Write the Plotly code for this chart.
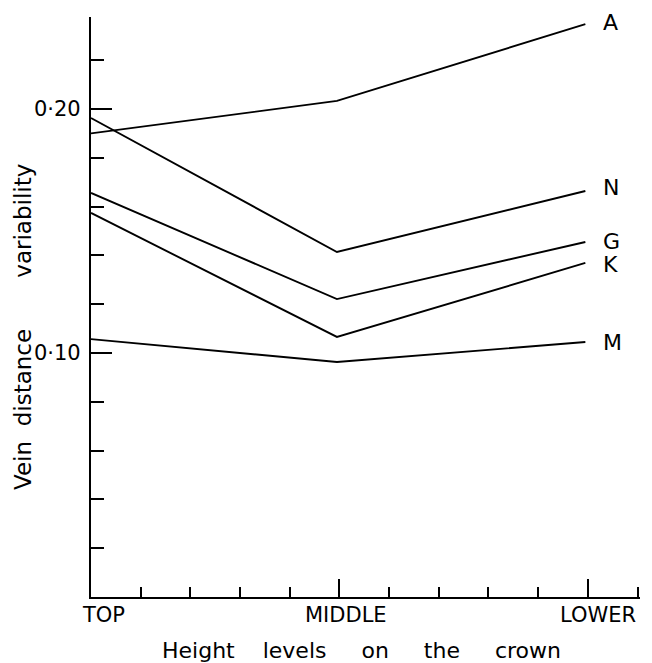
import plotly.graph_objects as go

levels_x = [0, 4.95, 9.95]
level_names = ["TOP", "MIDDLE", "LOWER"]
level_ticks = [0, 5, 10]
series_names = ["A", "N", "G", "K", "M"]
A = [0.190, 0.2033, 0.2348]
N = [0.1963, 0.1414, 0.1664]
G = [0.1656, 0.1221, 0.1455]
K = [0.1574, 0.1066, 0.1369]
M = [0.1057, 0.0963, 0.1045]
series_vals = [A, N, G, K, M]
label_y = [0.2355, 0.1680, 0.1459, 0.1361, 0.1045]
y_tickvals = [0.10, 0.20]
y_ticktext = ["0·10", "0·20"]

FONT = "DejaVu Sans"
fig = go.Figure()
for name, vals in zip(series_names, series_vals):
    fig.add_trace(go.Scatter(x=levels_x, y=vals, mode="lines", name=name,
                             line=dict(color="black", width=1.9), showlegend=False))

annotations = []
for name, yv in zip(series_names, label_y):
    annotations.append(dict(x=10.26, y=yv, xref="x", yref="y", text=name, showarrow=False,
                            xanchor="left", yanchor="middle",
                            font=dict(family=FONT, size=22, color="black")))
offsets = [12, 7, 10]
for name, xv, off in zip(level_names, level_ticks, offsets):
    annotations.append(dict(x=xv, y=0, xref="x", yref="y", text=name, showarrow=False,
                            xanchor="center", yanchor="top", xshift=off, yshift=-4,
                            font=dict(family=FONT, size=21, color="black")))
annotations.append(dict(x=0.492, y=0, xref="paper", yref="paper",
                        text="Height    levels     on     the     crown", showarrow=False,
                        xanchor="center", yanchor="top", yshift=-39,
                        font=dict(family=FONT, size=22, color="black")))
annotations.append(dict(x=0, y=0.4655, xref="paper", yref="paper",
                        text="Vein  distance       variability", showarrow=False, textangle=-90,
                        xanchor="center", yanchor="middle", xshift=-68,
                        font=dict(family=FONT, size=23, color="black")))

fig.update_layout(
    width=652, height=663,
    margin=dict(l=83, r=20, t=9, b=74),
    plot_bgcolor="white", paper_bgcolor="white",
    annotations=annotations,
    xaxis=dict(range=[0, 11.05], showgrid=False, zeroline=False,
               showline=True, linecolor="black", linewidth=2.2,
               tickvals=level_ticks, ticktext=["", "", ""], ticks="inside", ticklen=18,
               tickwidth=1.6, tickcolor="black",
               minor=dict(dtick=1, tick0=0, ticks="inside", ticklen=10, tickwidth=1.6,
                          tickcolor="black", showgrid=False)),
    yaxis=dict(range=[0, 0.2377], showgrid=False, zeroline=False,
               showline=True, linecolor="black", linewidth=2.2,
               tickvals=y_tickvals, ticktext=y_ticktext, ticks="inside", ticklen=21,
               tickwidth=1.6, tickcolor="black", ticklabelstandoff=4,
               tickfont=dict(family=FONT, size=21, color="black"),
               minor=dict(dtick=0.02, tick0=0, ticks="inside", ticklen=13, tickwidth=1.6,
                          tickcolor="black", showgrid=False)),
)
fig.write_html("out.html")
